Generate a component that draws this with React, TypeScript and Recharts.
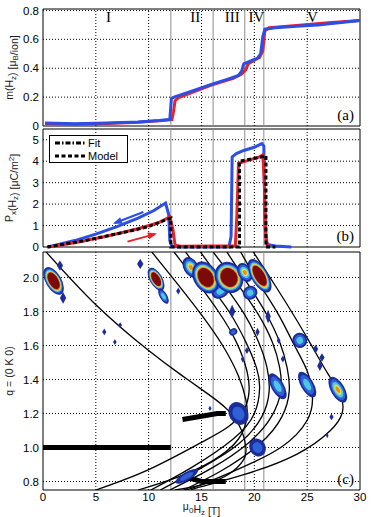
import React from 'react';
import { ComposedChart, Line, Scatter, XAxis, YAxis, ReferenceLine, ReferenceArea, ReferenceDot } from 'recharts';

// shared field axis (T)
const xTicks = [0, 5, 10, 15, 20, 25, 30];
const xGrid = [5, 10, 15, 20, 25];
const phaseBounds = [12.1, 16.1, 19.1, 20.9];
const regions = [
    { name: 'I', x: 6.2 },
    { name: 'II', x: 14.4 },
    { name: 'III', x: 17.9 },
    { name: 'IV', x: 20.2 },
    { name: 'V', x: 25.5 },
];

// (a) magnetisation
const mTicks = [0, 0.2, 0.4, 0.6, 0.8];
const mBlue = [
    { x: 0.2, y: 0.02 }, { x: 3, y: 0.015 }, { x: 6, y: 0.02 }, { x: 9, y: 0.028 }, { x: 11, y: 0.038 },
    { x: 12.0, y: 0.045 }, { x: 12.15, y: 0.19 }, { x: 12.4, y: 0.2 }, { x: 14, y: 0.24 }, { x: 16, y: 0.29 },
    { x: 17.5, y: 0.325 }, { x: 18.5, y: 0.35 }, { x: 18.8, y: 0.38 }, { x: 19.0, y: 0.43 }, { x: 19.5, y: 0.445 },
    { x: 20.3, y: 0.47 }, { x: 20.6, y: 0.5 }, { x: 20.8, y: 0.62 }, { x: 21.0, y: 0.67 }, { x: 22, y: 0.68 },
    { x: 24, y: 0.69 }, { x: 26, y: 0.7 }, { x: 28, y: 0.715 }, { x: 30, y: 0.73 },
];
const mRed = [
    { x: 0.2, y: 0.015 }, { x: 3, y: 0.012 }, { x: 6, y: 0.018 }, { x: 9, y: 0.026 }, { x: 11, y: 0.036 },
    { x: 12.2, y: 0.045 }, { x: 12.35, y: 0.1 }, { x: 12.5, y: 0.175 }, { x: 12.8, y: 0.195 }, { x: 14, y: 0.23 },
    { x: 16, y: 0.285 }, { x: 18, y: 0.33 }, { x: 18.8, y: 0.36 }, { x: 19.2, y: 0.39 }, { x: 19.4, y: 0.43 },
    { x: 20, y: 0.455 }, { x: 20.5, y: 0.475 }, { x: 20.8, y: 0.52 }, { x: 21.0, y: 0.66 }, { x: 21.4, y: 0.68 },
    { x: 24, y: 0.695 }, { x: 27, y: 0.715 }, { x: 30, y: 0.73 },
];

// (b) polarisation
const pTicks = [0, 1, 2, 3, 4, 5];
const pBlue = [
    { x: 0.5, y: 0 }, { x: 3, y: 0.3 }, { x: 5, y: 0.6 }, { x: 7, y: 0.95 }, { x: 9, y: 1.35 }, { x: 10.5, y: 1.7 },
    { x: 11.6, y: 2.05 }, { x: 11.9, y: 1.5 }, { x: 12.0, y: 0.3 }, { x: 12.2, y: 0.02 }, { x: 13, y: 0 },
    { x: 17.6, y: 0 }, { x: 17.8, y: 0.5 }, { x: 17.9, y: 4.2 }, { x: 18.3, y: 4.35 }, { x: 19, y: 4.5 },
    { x: 20, y: 4.65 }, { x: 20.7, y: 4.82 }, { x: 20.9, y: 4.7 }, { x: 21.0, y: 1 }, { x: 21.2, y: 0.12 },
    { x: 22, y: 0.05 }, { x: 23.5, y: 0 },
];
const pRed = [
    { x: 0.5, y: 0 }, { x: 3, y: 0.2 }, { x: 6, y: 0.5 }, { x: 9, y: 0.85 }, { x: 11, y: 1.15 }, { x: 12.0, y: 1.4 },
    { x: 12.3, y: 0.8 }, { x: 12.5, y: 0.08 }, { x: 13, y: 0.04 }, { x: 16, y: 0.05 }, { x: 18.2, y: 0.06 },
    { x: 18.35, y: 1.5 }, { x: 18.5, y: 3.9 }, { x: 19.5, y: 4.05 }, { x: 20.5, y: 4.2 }, { x: 20.8, y: 4.3 },
    { x: 20.95, y: 3 }, { x: 21.1, y: 0.3 }, { x: 21.4, y: 0 },
];
const pModel = [
    { x: 0.4, y: 0 }, { x: 4, y: 0.3 }, { x: 8, y: 0.72 }, { x: 10, y: 0.95 }, { x: 11.8, y: 1.3 }, { x: 12.1, y: 1.35 },
    { x: 12.1, y: 0 }, { x: 18.6, y: 0 }, { x: 18.6, y: 4.0 }, { x: 19.5, y: 4.08 }, { x: 20.5, y: 4.18 },
    { x: 21.1, y: 4.25 }, { x: 21.1, y: 0 }, { x: 22, y: 0 },
];
const arrowBlue = [{ x: 9.5, y: 1.63 }, { x: 6.8, y: 1.12 }];
const arrowRed = [{ x: 8.0, y: 0.25 }, { x: 10.6, y: 0.6 }];

// (c) neutron intensity map, q = (0 K 0)
const qTicks = [0.8, 1.0, 1.2, 1.4, 1.6, 1.8, 2.0];
const blobs = [
    { x: 1.0, q: 1.98, w: 1.5, h: 0.18, lvl: 4 }, { x: 1.6, q: 2.07, w: 0.6, h: 0.06, lvl: 1 },
    { x: 1.9, q: 1.88, w: 0.6, h: 0.07, lvl: 1 }, { x: 9.2, q: 2.08, w: 0.6, h: 0.06, lvl: 1 },
    { x: 10.7, q: 1.99, w: 1.2, h: 0.15, lvl: 4 }, { x: 11.4, q: 1.89, w: 0.7, h: 0.1, lvl: 2 },
    { x: 12.8, q: 1.92, w: 0.4, h: 0.04, lvl: 1 }, { x: 5.8, q: 1.68, w: 0.4, h: 0.04, lvl: 1 },
    { x: 6.8, q: 1.62, w: 0.35, h: 0.035, lvl: 1 }, { x: 7.3, q: 1.72, w: 0.35, h: 0.035, lvl: 1 },
    { x: 14.0, q: 2.06, w: 1.4, h: 0.13, lvl: 3 }, { x: 16.8, q: 1.92, w: 1.8, h: 0.08, lvl: 2 },
    { x: 19.6, q: 1.91, w: 1.4, h: 0.08, lvl: 2 }, { x: 15.4, q: 2.0, w: 2.3, h: 0.2, lvl: 4 },
    { x: 17.6, q: 2.0, w: 2.6, h: 0.19, lvl: 4 }, { x: 19.1, q: 2.03, w: 1.3, h: 0.12, lvl: 3 },
    { x: 20.5, q: 2.01, w: 1.6, h: 0.22, lvl: 4 },
    { x: 17.9, q: 1.8, w: 0.6, h: 0.08, lvl: 1 }, { x: 21.3, q: 1.77, w: 0.5, h: 0.08, lvl: 1 },
    { x: 18.0, q: 1.68, w: 0.8, h: 0.04, lvl: 1 }, { x: 20.3, q: 1.68, w: 0.4, h: 0.05, lvl: 1 },
    { x: 24.3, q: 1.63, w: 1.4, h: 0.09, lvl: 2 }, { x: 25.8, q: 1.58, w: 0.5, h: 0.05, lvl: 1 },
    { x: 19.3, q: 1.57, w: 0.4, h: 0.04, lvl: 1 }, { x: 18.9, q: 1.52, w: 0.35, h: 0.04, lvl: 1 },
    { x: 22.7, q: 1.52, w: 0.4, h: 0.04, lvl: 1 }, { x: 26.2, q: 1.48, w: 0.5, h: 0.06, lvl: 1 },
    { x: 22.3, q: 1.63, w: 0.35, h: 0.04, lvl: 1 }, { x: 26.4, q: 1.53, w: 0.5, h: 0.05, lvl: 1 },
    { x: 22.2, q: 1.36, w: 1.2, h: 0.17, lvl: 2 }, { x: 25.0, q: 1.37, w: 1.2, h: 0.17, lvl: 2 },
    { x: 27.9, q: 1.34, w: 1.3, h: 0.17, lvl: 3 },
    { x: 18.5, q: 1.2, w: 1.8, h: 0.14, lvl: 1 }, { x: 20.3, q: 1.0, w: 1.5, h: 0.11, lvl: 1 },
    { x: 27.3, q: 1.18, w: 0.4, h: 0.04, lvl: 1 }, { x: 26.9, q: 1.07, w: 0.25, h: 0.03, lvl: 1 },
    { x: 15.8, q: 1.23, w: 0.3, h: 0.03, lvl: 1 }, { x: 13.6, q: 0.83, w: 2.4, h: 0.05, lvl: 1 },
];
const curves = [
    [[0.3, 2.15], [5, 1.84], [10, 1.57], [13, 1.43], [15.5, 1.32], [17.5, 1.22], [18.8, 1.1], [19.2, 1.0], [19, 0.93], [17.5, 0.84], [15, 0.78], [12.5, 0.75]],
    [[10.3, 2.15], [12.5, 1.98], [15, 1.78], [17, 1.6], [18.5, 1.42], [19.2, 1.28], [19.3, 1.18], [18.5, 1.05], [16, 0.92], [12.5, 0.82], [9, 0.75]],
    [[12.4, 2.15], [14.5, 1.98], [16.6, 1.8], [18.3, 1.62], [19.3, 1.45], [19.5, 1.33], [19, 1.22], [17.5, 1.12], [15, 1.03], [10, 0.87], [5, 0.75]],
    [[13.5, 2.15], [15.6, 1.97], [17.6, 1.8], [19.2, 1.62], [20.2, 1.47], [20.5, 1.35], [20, 1.2], [18, 1.05], [14, 0.88], [10.2, 0.75]],
    [[14.9, 2.15], [17, 1.97], [19, 1.79], [20.4, 1.62], [21.2, 1.47], [21.4, 1.33], [20.7, 1.18], [18.5, 1.02], [15, 0.88], [11.1, 0.75]],
    [[16.1, 2.15], [18.3, 1.97], [20.3, 1.79], [21.7, 1.62], [22.4, 1.47], [22.5, 1.33], [21.6, 1.18], [19.5, 1.03], [16, 0.88], [12, 0.75]],
    [[17.4, 2.15], [19.3, 1.97], [21.1, 1.79], [22.4, 1.62], [23.1, 1.47], [23.3, 1.33], [22.6, 1.18], [20.5, 1.02], [16.8, 0.86], [13.3, 0.75]],
    [[18.7, 2.15], [20.5, 1.96], [22.3, 1.78], [23.8, 1.6], [25, 1.45], [25.5, 1.3], [25, 1.16], [22.5, 1.0], [18, 0.86], [14.5, 0.77], [13.5, 0.75]],
    [[19.9, 2.15], [22, 1.95], [24, 1.75], [25.6, 1.58], [27, 1.43], [28.2, 1.3], [28.3, 1.2], [27.2, 1.1], [24, 0.96], [19, 0.84], [15, 0.77], [14, 0.75]],
];
const bars = [
    [[0, 1.0], [12.1, 1.0]],
    [[13.2, 1.165], [16.5, 1.2], [17.3, 1.2]],
    [[13.3, 0.83], [15, 0.8], [17.3, 0.8]],
];

const W = 373;
const M_RIGHT = 13;
const Y_W = 43;
const PXT = (W - M_RIGHT - Y_W) / 30;
const PXB = 118 / 5.5;
const PXQ = 238 / 1.4;

const BLUE = '#2b4fe6';
const RED = '#e8212b';
const GRAY = '#8c8c8c';
const SANS = 'Liberation Sans, Arial, sans-serif';
const SERIF = 'Liberation Serif, Times New Roman, serif';
const tickStyle = { fontSize: 11.5, fill: '#000', fontFamily: SANS };
const fmt1 = (v: number) => (v === 0 ? '0' : v.toFixed(1));

const YLabel = ({ viewBox, children }: any) => {
    const cx = viewBox.x + 13;
    const cy = viewBox.y + viewBox.height / 2;
    return (
        <text x={cx} y={cy} transform={`rotate(-90 ${cx} ${cy})`} textAnchor="middle" fontSize={10.5} fontFamily={SANS} fill="#222">
            {children}
        </text>
    );
};
const sub = (t: string) => [
    <tspan key="s" dy={2.5} fontSize={8}>{t}</tspan>,
    <tspan key="r" dy={-2.5}>{''}</tspan>,
];

const gridLines = (yVals: number[]) => [
    ...xGrid.map(v => <ReferenceLine key={'gx' + v} x={v} stroke="#000" strokeDasharray="1 2" />),
    ...yVals.map(v => <ReferenceLine key={'gy' + v} y={v} stroke="#000" strokeDasharray="1 2" />),
];
const phaseLines = () => phaseBounds.map(v => <ReferenceLine key={'ph' + v} x={v} stroke={GRAY} strokeWidth={1} />);

const arrowDot = (color: string, pts: { x: number; y: number }[]) => (p: any) => {
    if (p.index !== pts.length - 1) return <g key={'d' + p.index} />;
    const a = pts[p.index - 1];
    const b = pts[p.index];
    // screen angle of the last segment (y grows downwards)
    const ang = (Math.atan2(-(b.y - a.y) * PXB, (b.x - a.x) * PXT) * 180) / Math.PI;
    return <polygon key={'d' + p.index} points="2,0 -7,-3.5 -7,3.5" fill={color} transform={`translate(${p.cx},${p.cy}) rotate(${ang})`} />;
};

const layers: [number, string][][] = [
    [],
    [[1, '#1b2c9c'], [0.6, '#2f60d6']],
    [[1, '#1b2c9c'], [0.75, '#2f60d6'], [0.45, '#4cc8e6']],
    [[1, '#1b2c9c'], [0.8, '#2f60d6'], [0.6, '#4cc8e6'], [0.4, '#d9e24a'], [0.25, '#ee8a26']],
    [[1, '#1b2c9c'], [0.88, '#2f60d6'], [0.8, '#4cc8e6'], [0.72, '#d9e24a'], [0.66, '#ee7a20'], [0.6, '#7d0a0a']],
];
const BlobShape = (p: any) => {
    const b = p.payload;
    const rx = (b.w * PXT) / 2;
    const ry = (b.h * PXQ) / 2;
    if (b.lvl === 1 && b.w <= 0.6) {
        return <polygon points={`${p.cx},${p.cy - ry} ${p.cx + rx},${p.cy} ${p.cx},${p.cy + ry} ${p.cx - rx},${p.cy}`} fill="#1b2c9c" />;
    }
    return (
        <g transform={`rotate(-30 ${p.cx} ${p.cy})`}>
            {layers[b.lvl].map(([s, c], i) => <ellipse key={i} cx={p.cx} cy={p.cy} rx={rx * s} ry={ry * s} fill={c} />)}
        </g>
    );
};

const toXY = (arr: number[][]) => arr.map(([x, q]) => ({ x, q }));

const Legend = () => (
    <div style={{ position: 'absolute', left: 49, top: 135, width: 77, height: 26, border: '1px solid #000', background: '#fff', fontFamily: SANS, fontSize: 11 }}>
        <div style={{ display: 'flex', alignItems: 'center', height: 13 }}>
            <svg width={34} height={8} style={{ marginLeft: 3 }}>
                <line x1={2} y1={4} x2={32} y2={4} stroke="#000" strokeWidth={3} strokeDasharray="5 2 1.5 2" />
            </svg>
            <span style={{ marginLeft: 1 }}>Fit</span>
        </div>
        <div style={{ display: 'flex', alignItems: 'center', height: 13 }}>
            <svg width={34} height={8} style={{ marginLeft: 3 }}>
                <line x1={2} y1={4} x2={32} y2={4} stroke="#000" strokeWidth={3} strokeDasharray="4 2.5" />
            </svg>
            <span style={{ marginLeft: 1 }}>Model</span>
        </div>
    </div>
);

export default function App() {
    return (
        <div style={{ position: 'absolute', left: 0, top: 0, width: W, height: 517, background: '#fff' }}>
            {/* (a) */}
            <div style={{ position: 'absolute', left: 0, top: 0 }}>
                <ComposedChart width={W} height={135} margin={{ top: 9, right: M_RIGHT, bottom: 9, left: 0 }}>
                    <XAxis type="number" dataKey="x" domain={[0, 30]} ticks={xTicks} hide />
                    <YAxis type="number" dataKey="y" domain={[0, 0.81]} ticks={mTicks} tickFormatter={fmt1} width={Y_W}
                        tick={tickStyle} tickLine={false} axisLine={false} tickSize={0} tickMargin={4}
                        label={{ content: (p: any) => <YLabel {...p}>m(H{sub('z')}) [μ{sub('B')}/ion]</YLabel> }} />
                    {gridLines([0.2, 0.4, 0.6, 0.8])}
                    {phaseLines()}
                    <Line data={mRed} dataKey="y" stroke={RED} strokeWidth={3} dot={false} isAnimationActive={false} />
                    <Line data={mBlue} dataKey="y" stroke={BLUE} strokeWidth={3} dot={false} isAnimationActive={false} />
                    {regions.map(r => (
                        <ReferenceDot key={r.name} x={r.x} y={0.76} r={0} fill="none" stroke="none"
                            label={{ value: r.name, position: 'center', fontFamily: SERIF, fontSize: 15, fill: '#000' }} />
                    ))}
                    <ReferenceArea x1={0} x2={30} y1={0} y2={0.81} fill="none" stroke="#000" strokeWidth={1}
                        label={{ value: '(a)', position: 'insideBottomRight', offset: 6, fontFamily: SERIF, fontSize: 15, fill: '#000' }} />
                </ComposedChart>
            </div>
            {/* (b) */}
            <div style={{ position: 'absolute', left: 0, top: 125 }}>
                <ComposedChart width={W} height={130} margin={{ top: 4, right: M_RIGHT, bottom: 8, left: 0 }}>
                    <XAxis type="number" dataKey="x" domain={[0, 30]} ticks={xTicks} hide />
                    <YAxis type="number" dataKey="y" domain={[0, 5.5]} ticks={pTicks} width={Y_W}
                        tick={tickStyle} tickLine={false} axisLine={false} tickSize={0} tickMargin={4}
                        label={{ content: (p: any) => <YLabel {...p}>P{sub('x')}(H{sub('z')}) [μC/m<tspan dy={-4} fontSize={8}>2</tspan><tspan dy={4}>]</tspan></YLabel> }} />
                    {gridLines([1, 2, 3, 4, 5])}
                    {phaseLines()}
                    <Line data={pBlue} dataKey="y" stroke={BLUE} strokeWidth={3} dot={false} isAnimationActive={false} />
                    <Line data={pRed} dataKey="y" stroke={RED} strokeWidth={3} dot={false} isAnimationActive={false} />
                    <Line data={pModel} dataKey="y" stroke="#000" strokeWidth={3} strokeDasharray="4 2.5" dot={false} isAnimationActive={false} />
                    <Line data={arrowBlue} dataKey="y" stroke={BLUE} strokeWidth={2} dot={arrowDot(BLUE, arrowBlue)} isAnimationActive={false} />
                    <Line data={arrowRed} dataKey="y" stroke={RED} strokeWidth={2} dot={arrowDot(RED, arrowRed)} isAnimationActive={false} />
                    <ReferenceArea x1={0} x2={30} y1={0} y2={5.5} fill="none" stroke="#000" strokeWidth={1}
                        label={{ value: '(b)', position: 'insideBottomRight', offset: 6, fontFamily: SERIF, fontSize: 15, fill: '#000' }} />
                </ComposedChart>
            </div>
            <Legend />
            {/* (c) */}
            <div style={{ position: 'absolute', left: 0, top: 245 }}>
                <ComposedChart width={W} height={272} margin={{ top: 7, right: M_RIGHT, bottom: 0, left: 0 }}>
                    <XAxis type="number" dataKey="x" domain={[0, 30]} ticks={xTicks} height={27} allowDataOverflow
                        tick={tickStyle} tickLine={false} axisLine={false} tickSize={0} tickMargin={3}
                        label={{
                            content: (p: any) => (
                                <text x={p.viewBox.x + p.viewBox.width / 2} y={p.viewBox.y + 20} textAnchor="middle" fontSize={10.5} fontFamily={SANS} fill="#222">
                                    μ{sub('0')}H{sub('z')} [T]
                                </text>
                            ),
                        }} />
                    <YAxis type="number" dataKey="q" domain={[0.75, 2.15]} ticks={qTicks} tickFormatter={fmt1} width={Y_W} allowDataOverflow
                        tick={tickStyle} tickLine={false} axisLine={false} tickSize={0} tickMargin={4}
                        label={{ content: (p: any) => <YLabel {...p}>q = (0 K 0)</YLabel> }} />
                    {gridLines([0.8, 1.0, 1.2, 1.4, 1.6, 1.8, 2.0])}
                    {phaseLines()}
                    <Scatter data={blobs} dataKey="q" shape={(p: any) => <BlobShape {...p} />} isAnimationActive={false} />
                    {curves.map((c, i) => (
                        <Line key={'c' + i} data={toXY(c)} dataKey="q" type="natural" stroke="#000" strokeWidth={1.3} dot={false} isAnimationActive={false} />
                    ))}
                    {bars.map((b, i) => (
                        <Line key={'b' + i} data={toXY(b)} dataKey="q" stroke="#000" strokeWidth={5} dot={false} isAnimationActive={false} />
                    ))}
                    <ReferenceArea x1={0} x2={30} y1={0.75} y2={2.15} fill="none" stroke="#000" strokeWidth={1}
                        label={{ value: '(c)', position: 'insideBottomRight', offset: 6, fontFamily: SERIF, fontSize: 15, fill: '#000' }} />
                </ComposedChart>
            </div>
        </div>
    );
}
